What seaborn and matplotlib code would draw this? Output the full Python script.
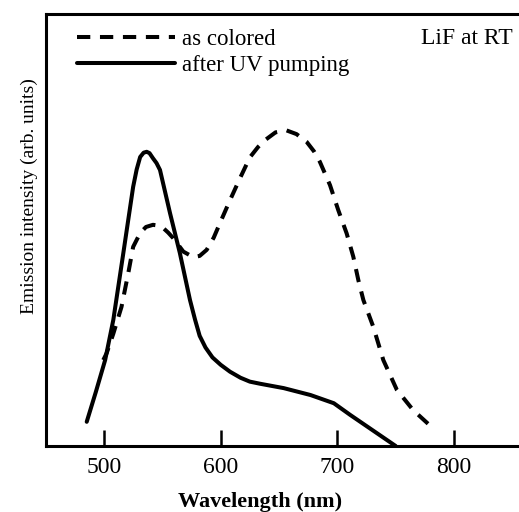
import numpy as np
import pandas as pd
import matplotlib
matplotlib.use("Agg")
import matplotlib.pyplot as plt
import seaborn as sns

# ---- data ----
series_names = ["as colored", "after UV pumping"]

wl_colored = [499.4, 502.3, 508, 515, 520.8, 525, 531, 536, 542, 547, 551, 555, 559.4, 568,
              576.6, 582, 588, 594, 599.4, 608, 616.6, 625, 632, 638, 647, 656, 665, 673.7,
              680, 685, 693.7, 700.8, 708, 713.7, 718, 722.3, 730.8, 739.4, 751, 765, 782]
int_colored = [0.199, 0.215, 0.26, 0.322, 0.40, 0.461, 0.493, 0.507, 0.512, 0.510, 0.504,
               0.494, 0.481, 0.45, 0.437, 0.440, 0.454, 0.482, 0.516, 0.569, 0.62, 0.668,
               0.692, 0.708, 0.726, 0.731, 0.722, 0.704, 0.682, 0.658, 0.604, 0.546, 0.492,
               0.438, 0.384, 0.338, 0.276, 0.199, 0.13, 0.083, 0.041]

wl_uv = [485.2, 493, 501, 508, 516.6, 525, 528, 531, 534, 536.6, 539, 542, 545, 548, 556.6,
         565, 573.7, 578, 582, 587, 593, 600, 608, 617, 625, 634, 654, 677, 697, 711, 750]
int_uv = [0.056, 0.125, 0.199, 0.292, 0.447, 0.60, 0.640, 0.669, 0.679, 0.681, 0.678,
          0.666, 0.655, 0.639, 0.539, 0.447, 0.338, 0.293, 0.255, 0.228, 0.205, 0.188,
          0.172, 0.158, 0.149, 0.144, 0.134, 0.118, 0.099, 0.072, 0.0]

x_ticks = [500, 600, 700, 800]

df = pd.concat([
    pd.DataFrame({"wavelength": wl_colored, "intensity": int_colored, "series": series_names[0]}),
    pd.DataFrame({"wavelength": wl_uv, "intensity": int_uv, "series": series_names[1]}),
], ignore_index=True)

sns.set_theme(style="white")
plt.rcParams["font.family"] = ["Liberation Serif", "DejaVu Serif"]
plt.rcParams["text.color"] = "black"
plt.rcParams["axes.labelcolor"] = "black"
plt.rcParams["xtick.color"] = "black"
plt.rcParams["ytick.color"] = "black"

W, H = 519, 512
fig = plt.figure(figsize=(W / 100, H / 100), dpi=100)
ax = fig.add_axes([46 / W, 66 / H, (W - 46) / W, 432 / H])

sns.lineplot(data=df, x="wavelength", y="intensity", style="series",
             style_order=series_names,
             dashes={series_names[0]: (3.3, 2.4), series_names[1]: ""},
             color="black", linewidth=2.9, sort=False, ax=ax)
for ln in ax.get_lines():
    ln.set_solid_joinstyle("round")
    ln.set_dash_joinstyle("round")

ax.set_xlim(450.3, 855.7)
ax.set_ylim(0, 1)
ax.set_xticks(x_ticks)
ax.set_xticklabels([str(t) for t in x_ticks])
ax.set_yticks([])

ax.tick_params(axis="x", direction="in", length=11.5, width=1.8, pad=8,
               labelsize=17, bottom=True, colors="black")

for side in ["left", "top", "bottom"]:
    ax.spines[side].set_linewidth(2.2)
    ax.spines[side].set_color("black")
ax.spines["right"].set_visible(False)

ax.set_xlabel("Wavelength (nm)", fontsize=16, fontweight="bold", color="black")
ax.xaxis.set_label_coords(0.452, -0.106)
ax.set_ylabel("Emission intensity (arb. units)", fontsize=14, color="black")
ax.yaxis.set_label_coords(-0.017, 0.578)

handles, labels = ax.get_legend_handles_labels()
leg = ax.legend(handles, labels, loc="upper left", bbox_to_anchor=(0.055, 0.977),
                frameon=False, fontsize=16.5, handlelength=4.3, handletextpad=0.3,
                labelspacing=0.25, borderpad=0.2, borderaxespad=0.0)
for t in leg.get_texts():
    t.set_color("black")

ax.text(0.987, 0.950, "LiF at RT", transform=ax.transAxes, ha="right", va="center_baseline",
        fontsize=17, color="black")

fig.savefig("out.png", dpi=100)
